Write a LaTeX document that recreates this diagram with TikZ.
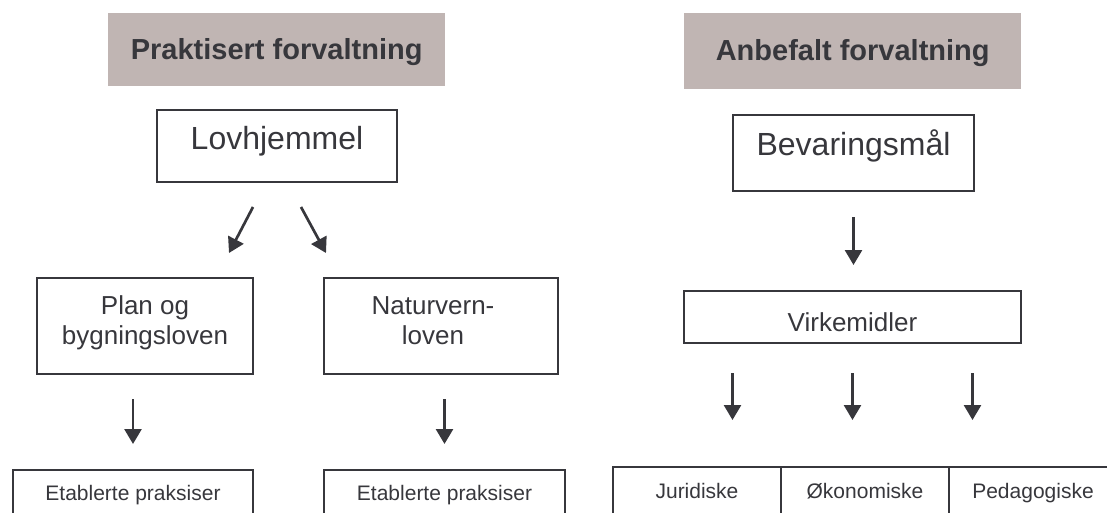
\documentclass[tikz,border=0pt]{standalone}
\usepackage{fontspec}
\setmainfont{Liberation Sans}
\usetikzlibrary{arrows.meta,calc}
\definecolor{hdrfill}{RGB}{192,181,179}
\definecolor{ink}{RGB}{55,55,60}
\begin{document}
\begin{tikzpicture}[x=1pt,y=-1pt,
  box/.style={draw=ink, line width=2pt, inner sep=0pt, text=ink, anchor=north west},
  hdr/.style={fill=hdrfill, inner sep=0pt, text=ink, anchor=north west, font=\fontsize{29}{34}\selectfont\bfseries},
  big/.style={font=\fontsize{32}{38}\selectfont},
  mid/.style={font=\fontsize{26}{30}\selectfont},
  small/.style={font=\fontsize{21}{25}\selectfont},
  arr/.style={draw=ink, line width=2.7pt, -{Triangle[width=17pt,length=15pt]}},
]
\useasboundingbox (0,0) rectangle (1107,513);
\clip (0,0) rectangle (1107,513);

% headers
\node[hdr, minimum width=337pt, text height=46pt, text depth=27pt] (h1) at (108,13) {Praktisert forvaltning};
\node[hdr, minimum width=337pt, text height=47pt, text depth=29pt] (h2) at (684,13) {Anbefalt forvaltning};

% left side
\node[box, big, minimum width=240pt, text height=40pt, text depth=32pt] (lov) at (156,109) {Lovhjemmel};
\node[box, mid, minimum width=216pt, text height=36pt, text depth=60pt] (plan) at (36,277)
  {\begin{tabular}[t]{@{}c@{}}Plan og\\bygningsloven\end{tabular}};
\node[box, mid, minimum width=234pt, text height=36pt, text depth=60pt] (nat) at (323,277)
  {\begin{tabular}[t]{@{}c@{\hspace{16pt}}}Naturvern-\\loven\end{tabular}};
\node[box, small, minimum width=240pt, text height=30pt, text depth=40pt] (et1) at (12,469) {Etablerte praksiser};
\node[box, small, minimum width=241pt, text height=30pt, text depth=40pt] (et2) at (323,469) {Etablerte praksiser};

% right side
\node[box, big, minimum width=241pt, text height=41pt, text depth=35pt] (bev) at (732,114) {Bevaringsmål};
\node[box, mid, minimum width=337pt, text height=40pt, text depth=12pt] (virk) at (683,290) {Virkemidler};
\node[box, small, minimum width=168pt, text height=31pt, text depth=40pt] (jur) at (612,466) {Juridiske};
\node[box, small, minimum width=168pt, text height=31pt, text depth=40pt] (oko) at (780,466) {Økonomiske};
\node[box, small, minimum width=168pt, text height=31pt, text depth=40pt] (ped) at (948,466) {Pedagogiske};

% arrows left
\draw[arr] ($(lov.south)+(-24,24)$) -- ($(plan.north)+(84,-24)$);
\draw[arr] ($(lov.south)+(24,24)$) -- ($(nat.north)+(-115,-24)$);
\draw[arr] ($(plan.south -| et1.north)+(0,24)$) -- ($(et1.north)+(0,-25)$);
\draw[arr] ($(nat.south -| et2.north)+(0,24)$) -- ($(et2.north)+(0,-25)$);

% arrows right
\draw[arr] ($(bev.south)+(0,25)$) -- ($(bev.south |- virk.north)+(0,-25)$);
\draw[arr] ($(virk.south)+(-120,29)$) -- ($(jur.north -| virk.south)+(-120,-46)$);
\draw[arr] ($(virk.south)+(0,29)$) -- ($(oko.north -| virk.south)+(0,-46)$);
\draw[arr] ($(virk.south)+(120,29)$) -- ($(ped.north -| virk.south)+(120,-46)$);
\end{tikzpicture}
\end{document}
